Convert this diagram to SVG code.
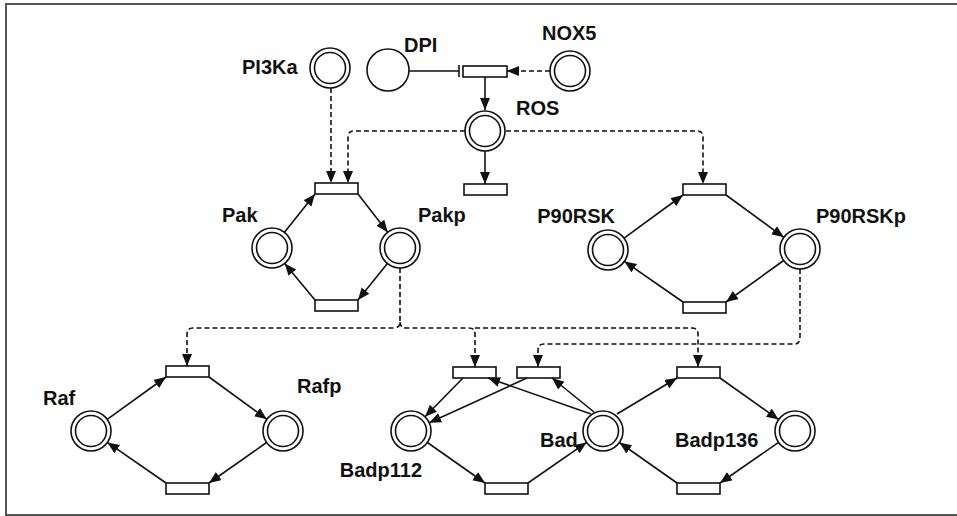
<svg xmlns="http://www.w3.org/2000/svg" width="957" height="516" viewBox="0 0 957 516">
  <style>
    .place circle { fill: #fff; stroke: #111; stroke-width: 1.6; }
    .trans { fill: #fff; stroke: #111; stroke-width: 1.6; }
    .lbl { font-family: "Liberation Sans", Arial, sans-serif; font-weight: bold; font-size: 20px; fill: #111; }
    .arc { fill: none; stroke: #111; stroke-width: 1.6; }
    .arc.solid { marker-end: url(#head); }
    .arc.dash { stroke-dasharray: 5 3; }
    .arc.dash.ah { marker-end: url(#head); }
    .frame { stroke: #555; stroke-width: 2; fill: none; }
  </style>
  <defs>
    <marker id="head" markerUnits="userSpaceOnUse" markerWidth="13" markerHeight="11" refX="12" refY="5" orient="auto">
      <path d="M0,0 L12,5 L0,10 z" fill="#111"/>
    </marker>
  </defs>

  <rect x="0" y="0" width="957" height="516" fill="#fff"/>
  <!-- outer frame (top, left, bottom) -->
  <path class="frame" d="M957,4 H6 V515 H957"/>

  <!-- places -->
  <g id="PI3Ka" class="place"><circle cx="330" cy="68" r="20"/><circle cx="330" cy="68" r="15.5"/><text class="lbl" x="242" y="74">PI3Ka</text></g>
  <g id="DPI" class="place"><circle cx="388" cy="70" r="21"/><text class="lbl" x="404" y="52">DPI</text></g>
  <g id="NOX5" class="place"><circle cx="570" cy="71" r="20"/><circle cx="570" cy="71" r="15.5"/><text class="lbl" x="542" y="40">NOX5</text></g>
  <g id="ROS" class="place"><circle cx="485" cy="131" r="20"/><circle cx="485" cy="131" r="15.5"/><text class="lbl" x="516" y="115">ROS</text></g>
  <g id="Pak" class="place"><circle cx="272" cy="248" r="20"/><circle cx="272" cy="248" r="15.5"/><text class="lbl" x="222" y="222">Pak</text></g>
  <g id="Pakp" class="place"><circle cx="400" cy="248" r="20"/><circle cx="400" cy="248" r="15.5"/><text class="lbl" x="418" y="222">Pakp</text></g>
  <g id="P90RSK" class="place"><circle cx="608" cy="250" r="20"/><circle cx="608" cy="250" r="15.5"/><text class="lbl" x="615" y="223" text-anchor="end">P90RSK</text></g>
  <g id="P90RSKp" class="place"><circle cx="800" cy="249" r="20"/><circle cx="800" cy="249" r="15.5"/><text class="lbl" x="816" y="223">P90RSKp</text></g>
  <g id="Raf" class="place"><circle cx="91" cy="431" r="20"/><circle cx="91" cy="431" r="15.5"/><text class="lbl" x="43" y="405">Raf</text></g>
  <g id="Rafp" class="place"><circle cx="283" cy="431" r="20"/><circle cx="283" cy="431" r="15.5"/><text class="lbl" x="297" y="393">Rafp</text></g>
  <g id="Badp112" class="place"><circle cx="411" cy="431" r="20"/><circle cx="411" cy="431" r="15.5"/><text class="lbl" x="422" y="477" text-anchor="end">Badp112</text></g>
  <g id="Bad" class="place"><circle cx="603" cy="431" r="20"/><circle cx="603" cy="431" r="15.5"/><text class="lbl" x="540" y="447">Bad</text></g>
  <g id="Badp136" class="place"><circle cx="795" cy="431" r="20"/><circle cx="795" cy="431" r="15.5"/><text class="lbl" x="675" y="447">Badp136</text></g>

  <!-- transitions -->
  <g id="t_ros_in"><rect class="trans" x="463" y="66" width="44" height="11"/></g>
  <g id="t_ros_out"><rect class="trans" x="464" y="184" width="43" height="11"/></g>
  <g id="t_pak_up"><rect class="trans" x="315" y="183" width="43" height="11"/></g>
  <g id="t_pak_down"><rect class="trans" x="315" y="300" width="43" height="11"/></g>
  <g id="t_rsk_up"><rect class="trans" x="683" y="184" width="43" height="11"/></g>
  <g id="t_rsk_down"><rect class="trans" x="683" y="302" width="43" height="11"/></g>
  <g id="t_raf_up"><rect class="trans" x="166" y="366" width="43" height="11"/></g>
  <g id="t_raf_down"><rect class="trans" x="166" y="483" width="43" height="11"/></g>
  <g id="t_bad112_a"><rect class="trans" x="453" y="367" width="43" height="11"/></g>
  <g id="t_bad112_b"><rect class="trans" x="517" y="367" width="43" height="11"/></g>
  <g id="t_bad136"><rect class="trans" x="677" y="367" width="43" height="11"/></g>
  <g id="t_bad112_back"><rect class="trans" x="485" y="483" width="43" height="11"/></g>
  <g id="t_bad136_back"><rect class="trans" x="677" y="483" width="43" height="11"/></g>

  <!-- connectors -->
  <g id="connectors">
    <!-- ROS production / inhibition / degradation -->
    <path class="arc" d="M409,71 H459 M459,65 V77"/>
    <path class="arc dash ah" d="M550,71 H507"/>
    <path class="arc solid" d="M485,77 V110"/>
    <path class="arc solid" d="M485,151 V184"/>

    <!-- activators of Pak phosphorylation -->
    <path class="arc dash ah" d="M331,88 V183"/>
    <path class="arc dash ah" d="M465,131 H354 Q348,131 348,137 V183"/>
    <!-- ROS activates P90RSK phosphorylation -->
    <path class="arc dash ah" d="M506,131 H697 Q703,131 703,137 V184"/>

    <!-- Pak cycle -->
    <path class="arc solid" d="M284.5,232.3 L315,194"/>
    <path class="arc solid" d="M358,194 L387.7,232.2"/>
    <path class="arc solid" d="M387.4,263.6 L358,300"/>
    <path class="arc solid" d="M315,300 L284.7,263.4"/>

    <!-- P90RSK cycle -->
    <path class="arc solid" d="M624.1,238.2 L683,195"/>
    <path class="arc solid" d="M726,195 L783.8,237.3"/>
    <path class="arc solid" d="M783.7,260.5 L726,302"/>
    <path class="arc solid" d="M683,302 L624.4,261.4"/>

    <!-- Pakp activations -->
    <path class="arc dash ah" d="M400,268 V322 Q400,328 394,328 H193 Q187,328 187,334 V366"/>
    <path class="arc dash ah" d="M400,322 Q400,328 406,328 H469 Q475,328 475,334 V367"/>
    <path class="arc dash ah" d="M475,328 H692 Q698,328 698,334 V367"/>
    <!-- P90RSKp activation -->
    <path class="arc dash ah" d="M800,269 V338 Q800,344 794,344 H544 Q538,344 538,350 V367"/>

    <!-- Raf cycle -->
    <path class="arc solid" d="M107.2,419.3 L166,377"/>
    <path class="arc solid" d="M209,377 L266.8,419.2"/>
    <path class="arc solid" d="M266.6,442.5 L209,483"/>
    <path class="arc solid" d="M166,483 L107.4,442.4"/>

    <!-- Bad cycles -->
    <path class="arc solid" d="M463,378 L425,416.7"/>
    <path class="arc solid" d="M527,378 L429.2,422.7"/>
    <path class="arc solid" d="M591,414 L488,378"/>
    <path class="arc solid" d="M594,412 L552,378"/>
    <path class="arc solid" d="M617,414 L677,378"/>
    <path class="arc solid" d="M720,378 L778.6,419.6"/>
    <path class="arc solid" d="M778.6,442.4 L720,483"/>
    <path class="arc solid" d="M677,483 L619.4,442.5"/>
    <path class="arc solid" d="M427.4,442.5 L485,483"/>
    <path class="arc solid" d="M528,483 L586.6,442.4"/>
  </g>
</svg>
